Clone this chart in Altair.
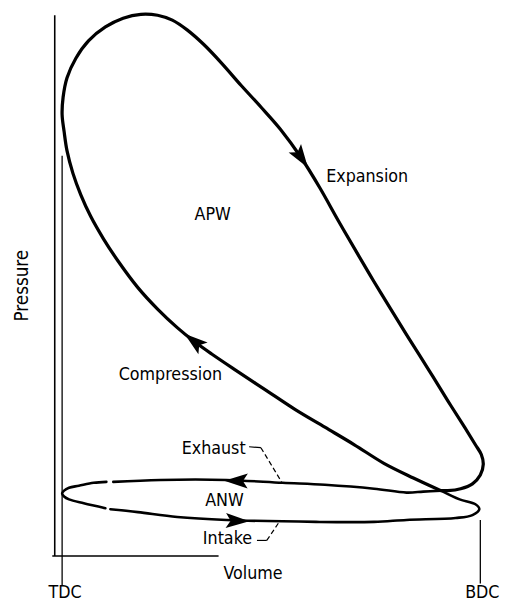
import altair as alt
import pandas as pd

# ---- Data (arbitrary units: volume V, pressure P; origin at axes corner) ----
# Main loop: compression (from the crossing, up-left) -> peak -> expansion -> back to crossing
MAIN_V = [393, 365, 335, 305, 275, 245, 215, 185, 160, 142, 125, 105, 85, 65, 50, 37, 27, 19, 13,
          10, 8, 9, 13, 22, 35, 52, 70, 88, 105, 120, 135, 152, 170, 190, 210, 230, 251, 270, 289,
          308, 325, 342, 361, 381, 400, 417, 428, 434, 436, 433, 425, 413, 400, 393]
MAIN_P = [67, 80, 95, 114, 132, 150, 170, 190, 207, 220, 234, 253, 275, 302, 325, 348, 370, 392,
          415, 435, 452, 470, 490, 510, 528, 542, 551, 555, 554, 549, 539, 524, 505, 482, 460, 437,
          408, 377, 343, 310, 281, 253, 222, 190, 159, 132, 114, 104, 94, 83, 74, 69, 67, 67]

# Exhaust stroke (from crossing, leftwards)
EXHAUST_V = [393, 375, 358, 325, 275, 232, 175, 108, 60]
EXHAUST_P = [67, 66, 65, 69, 73, 75, 78, 78, 76]

# Left nose of the pumping loop (around TDC)
NOSE_V = [53, 40, 25, 15, 10, 8, 10, 15, 30, 52]
NOSE_P = [76, 75, 72, 70, 67, 64, 61, 58, 54, 49]

# Intake stroke (rightwards, round the BDC end, up to the crossing)
INTAKE_V = [57, 85, 125, 175, 266, 325, 358, 408, 425, 432, 428, 412, 393]
INTAKE_P = [48, 45, 40, 37, 35, 35, 37, 39, 42, 48, 53, 58, 67]

# Arrowheads: position and direction (degrees clockwise from up)
ARROW_V = [251, 142, 185, 186]
ARROW_P = [408, 220, 77, 36]
ARROW_ANGLE = [146, 308, 271, 92]

# Reference lines: axes, TDC, BDC
RULE_V = [0.5, -2, 8, 433]
RULE_V2 = [0.5, 167, 8, 433]
RULE_P = [554, 0, 410, 37]
RULE_P2 = [0, 0, -30, -28]
RULE_W = [1.6, 1.6, 1.3, 1.3]

# Leader lines (solid short ticks, then dashed parts)
LEAD_SOLID_V = [198, 206]
LEAD_SOLID_V2 = [210, 216]
LEAD_SOLID_P = [112, 16]
LEAD_SOLID_P2 = [111, 16]
LEAD_DASH_V = [210, 216]
LEAD_DASH_V2 = [231, 228]
LEAD_DASH_P = [111, 16]
LEAD_DASH_P2 = [76, 34]

# Labels
LABELS = ["Expansion", "APW", "Compression", "Exhaust", "ANW", "Intake", "Volume", "TDC", "BDC"]
LABEL_V = [318, 161, 118, 162, 173, 176, 202, 11, 435]
LABEL_P = [383, 344, 180, 105, 51, 12, -23, -43, -43]
YLABEL = ["Pressure"]
YLABEL_V = [-27]
YLABEL_P = [277]

FONT = "DejaVu Sans Condensed"

xs = alt.Scale(domain=[-47, 453], nice=False, zero=False)
ys = alt.Scale(domain=[-48.3, 556.5], nice=False, zero=False)
X = alt.X("v:Q", scale=xs, axis=None)
Y = alt.Y("p:Q", scale=ys, axis=None)


def seg_df(vs, ps):
    return pd.DataFrame({"v": vs, "p": ps, "i": list(range(len(vs)))})


def line_layer(df, width):
    return alt.Chart(df).mark_line(
        interpolate="catmull-rom", color="black", strokeWidth=width,
        strokeCap="round", strokeJoin="round"
    ).encode(x=X, y=Y, order=alt.Order("i:Q"))


main = line_layer(seg_df(MAIN_V, MAIN_P), 3.3)
exhaust = line_layer(seg_df(EXHAUST_V, EXHAUST_P), 2.6)
nose = line_layer(seg_df(NOSE_V, NOSE_P), 2.6)
intake = line_layer(seg_df(INTAKE_V, INTAKE_P), 2.6)

arrows_df = pd.DataFrame({"v": ARROW_V, "p": ARROW_P, "a": ARROW_ANGLE})
arrows = alt.Chart(arrows_df).mark_point(
    shape="M0,-1L0.62,0.95L0,0.55L-0.62,0.95Z", filled=True, color="black",
    size=600, opacity=1, strokeWidth=0
).encode(x=X, y=Y, angle=alt.Angle("a:Q", scale=None))

rules_df = pd.DataFrame({"v": RULE_V, "v2": RULE_V2, "p": RULE_P, "p2": RULE_P2, "w": RULE_W})
rules = alt.Chart(rules_df).mark_rule(color="black").encode(
    x=X, x2="v2:Q", y=Y, y2="p2:Q",
    strokeWidth=alt.StrokeWidth("w:Q", scale=None),
)

lead_solid_df = pd.DataFrame({"v": LEAD_SOLID_V, "v2": LEAD_SOLID_V2,
                              "p": LEAD_SOLID_P, "p2": LEAD_SOLID_P2})
lead_solid = alt.Chart(lead_solid_df).mark_rule(color="black", strokeWidth=1.2).encode(
    x=X, x2="v2:Q", y=Y, y2="p2:Q",
)
lead_dash_df = pd.DataFrame({"v": LEAD_DASH_V, "v2": LEAD_DASH_V2,
                             "p": LEAD_DASH_P, "p2": LEAD_DASH_P2})
lead_dash = alt.Chart(lead_dash_df).mark_rule(
    color="black", strokeWidth=1.2, strokeDash=[5, 3]
).encode(x=X, x2="v2:Q", y=Y, y2="p2:Q")

labels = alt.Chart(pd.DataFrame({"t": LABELS, "v": LABEL_V, "p": LABEL_P})).mark_text(
    font=FONT, fontSize=18, color="black", align="center", baseline="alphabetic"
).encode(x=X, y=Y, text="t:N")

ylab = alt.Chart(pd.DataFrame({"t": YLABEL, "v": YLABEL_V, "p": YLABEL_P})).mark_text(
    font=FONT, fontSize=19, color="black", align="center", baseline="alphabetic", angle=270
).encode(x=X, y=Y, text="t:N")

chart = alt.layer(
    rules, lead_solid, lead_dash, main, exhaust, nose, intake, arrows, labels, ylab
).properties(
    width=500, height=600, padding=0, autosize=alt.AutoSizeParams(type="none"),
    background="white"
).configure_view(stroke=None)

chart.save("out.html", embed_options={"renderer": "svg", "actions": False})
